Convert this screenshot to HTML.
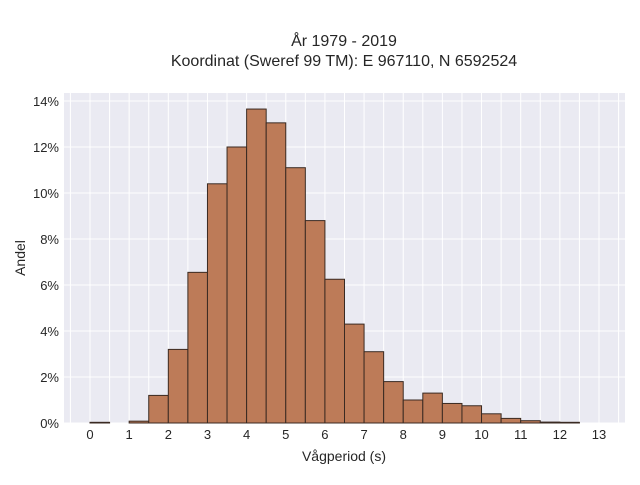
<!DOCTYPE html>
<html><head><meta charset="utf-8"><style>
body{margin:0;background:#fff;}
text{font-family:"Liberation Sans",sans-serif;fill:#262626;}
</style></head><body>
<svg id="chart" width="640" height="480" xmlns="http://www.w3.org/2000/svg">
<rect x="64" y="93" width="561" height="330" fill="#eaeaf2"/>
<g id="grid"></g><g id="bars"></g><g id="ticks"></g>
<text x="344" y="46" font-size="16" text-anchor="middle">År 1979 - 2019</text>
<text x="344" y="66" font-size="16" text-anchor="middle">Koordinat (Sweref 99 TM): E 967110, N 6592524</text>
<text x="344" y="461" font-size="14" text-anchor="middle">Vågperiod (s)</text>
<text x="25" y="258" font-size="14" text-anchor="middle" transform="rotate(-90 25 258)">Andel</text>
</svg>
<script>
const binStarts=[0,0.5,1,1.5,2,2.5,3,3.5,4,4.5,5,5.5,6,6.5,7,7.5,8,8.5,9,9.5,10,10.5,11,11.5,12];
const shares=[0.03,0,0.08,1.2,3.2,6.55,10.4,12.0,13.65,13.05,11.1,8.8,6.25,4.3,3.1,1.8,1.0,1.3,0.85,0.75,0.4,0.2,0.1,0.04,0.03];
const xTicks=[0,1,2,3,4,5,6,7,8,9,10,11,12,13];
const yTicks=[0,2,4,6,8,10,12,14];
const NS="http://www.w3.org/2000/svg";
const X=v=>90+v*(509/13), Y=v=>423-v*23;
function mk(tag,attrs,parent,txt){const e=document.createElementNS(NS,tag);for(const k in attrs)e.setAttribute(k,attrs[k]);if(txt!==undefined)e.textContent=txt;document.getElementById(parent).appendChild(e);return e;}
for(let v=-0.5;v<=13.5;v+=0.5){const l=mk('line',{x1:X(v),x2:X(v),y1:93,y2:423,stroke:'#fff','stroke-width':1},'grid');

}
yTicks.forEach(t=>{const l=mk('line',{x1:64,x2:625,y1:Y(t),y2:Y(t),stroke:'#fff','stroke-width':1},'grid');


const tx=mk('text',{x:59,y:Y(t)+5,'font-size':13,'text-anchor':'end'},'ticks',t+'%');

});
xTicks.forEach(t=>{const tx=mk('text',{x:X(t),y:439,'font-size':13,'text-anchor':'middle'},'ticks',String(t));

});
binStarts.forEach((b,i)=>{if(shares[i]<=0)return;const r=mk('rect',{x:X(b),y:Y(shares[i]),width:X(b+0.5)-X(b),height:Y(0)-Y(shares[i]),fill:'#bd7b58',stroke:'#3a2a22','stroke-width':1},'bars');

});
</script>
</body></html>
